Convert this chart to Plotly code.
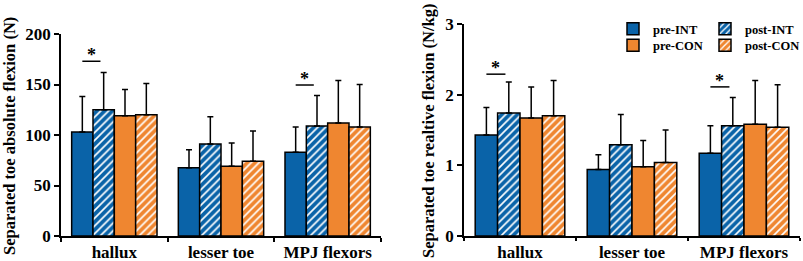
import plotly.graph_objects as go

categories = ["hallux", "lesser toe", "MPJ flexors"]
series = ["pre-INT", "post-INT", "pre-CON", "post-CON"]

abs_mean = {
    "pre-INT": [103, 67.5, 83],
    "post-INT": [125, 91, 109],
    "pre-CON": [119, 69, 112],
    "post-CON": [120, 74, 108],
}
abs_sd = {
    "pre-INT": [35, 18, 25],
    "post-INT": [37, 27, 30],
    "pre-CON": [26, 23, 42],
    "post-CON": [31, 30, 42],
}
rel_mean = {
    "pre-INT": [1.43, 0.94, 1.17],
    "post-INT": [1.74, 1.29, 1.56],
    "pre-CON": [1.67, 0.98, 1.58],
    "post-CON": [1.70, 1.04, 1.54],
}
rel_sd = {
    "pre-INT": [0.39, 0.21, 0.39],
    "post-INT": [0.44, 0.43, 0.40],
    "pre-CON": [0.44, 0.37, 0.62],
    "post-CON": [0.50, 0.46, 0.60],
}
# significance markers: (category index, height)
sig_abs = [(0, 173), (2, 149.5)]
sig_rel = [(0, 2.29), (2, 2.11)]

BLUE = "#0a63a8"
ORANGE = "#ef8630"
colors = {"pre-INT": BLUE, "post-INT": BLUE, "pre-CON": ORANGE, "post-CON": ORANGE}
hatched = {"pre-INT": False, "post-INT": True, "pre-CON": False, "post-CON": True}
legend_of = {"pre-INT": "legend", "post-INT": "legend2", "pre-CON": "legend3", "post-CON": "legend4"}

FONT = "Liberation Serif"
fig = go.Figure()

for panel, (means, sds, xa, ya) in enumerate([(abs_mean, abs_sd, "x", "y"), (rel_mean, rel_sd, "x2", "y2")]):
    for s in series:
        pattern = dict(shape="/", fgcolor="white", bgcolor=colors[s], size=5.5, solidity=0.3) if hatched[s] else dict(shape="")
        fig.add_trace(go.Bar(
            x=categories, y=means[s], name=s, xaxis=xa, yaxis=ya,
            marker=dict(color=colors[s], line=dict(color="black", width=1.5), pattern=pattern),
            error_y=dict(type="data", array=sds[s], symmetric=False, arrayminus=[0] * 3,
                         color="black", thickness=1.5, width=3),
            showlegend=(panel == 1), legend=legend_of[s],
        ))

nser = len(series)
group_w = 0.8
bar_w = group_w / nser
def bar_center(ci, si):
    return ci - group_w / 2 + bar_w * (si + 0.5)

shapes = []
annotations = []
for sigs, xr, yr in [(sig_abs, "x", "y"), (sig_rel, "x2", "y2")]:
    for ci, h in sigs:
        x0 = bar_center(ci, 0)
        x1 = bar_center(ci, 1) - 0.03
        shapes.append(dict(type="line", xref=xr, yref=yr, x0=x0, x1=x1, y0=h, y1=h,
                           line=dict(color="black", width=1.5)))
        annotations.append(dict(xref=xr, yref=yr, x=(x0 + x1) / 2, y=h, text="*", showarrow=False,
                                yanchor="bottom", yshift=-6,
                                font=dict(family=FONT, size=18, color="black", weight="bold")))

annotations.append(dict(xref="paper", yref="paper", x=9 / 803, y=1 - 136 / 261, text="Separated toe absolute flexion (N)",
                        textangle=-90, showarrow=False, xanchor="center", yanchor="middle",
                        font=dict(family=FONT, size=16.5, color="black", weight="bold")))
annotations.append(dict(xref="paper", yref="paper", x=428 / 803, y=1 - 131 / 261, text="Separated toe realtive flexion (N/kg)",
                        textangle=-90, showarrow=False, xanchor="center", yanchor="middle",
                        font=dict(family=FONT, size=16.5, color="black", weight="bold")))

xcommon = dict(type="category", range=[-0.5, 2.5], showline=True, linecolor="black", linewidth=1.5,
               ticks="outside", tickson="boundaries", ticklen=4, tickcolor="black", tickwidth=1.5,
               showgrid=False, zeroline=False, automargin=False,
               tickfont=dict(family=FONT, size=17, color="black", weight="bold"))
ycommon = dict(showline=True, linecolor="black", linewidth=1.5, ticks="outside", ticklen=5,
               tickcolor="black", tickwidth=1.5, showgrid=False, zeroline=False, automargin=False,
               tickfont=dict(family=FONT, size=17, color="black", weight="bold"))

legfont = dict(family=FONT, size=12.5, color="black", weight="bold")
def leg(xpx, ypx):
    return dict(x=xpx / 803, y=1 - ypx / 261, xanchor="left", yanchor="middle", font=legfont,
                bgcolor="rgba(0,0,0,0)", borderwidth=0)

fig.update_layout(
    template="none",
    width=803, height=261, margin=dict(l=0, r=0, t=0, b=0, autoexpand=False),
    paper_bgcolor="white", plot_bgcolor="white",
    barmode="group", bargap=0.2, bargroupgap=0,
    xaxis=dict(xcommon, domain=[61 / 803, 381 / 803], anchor="y"),
    yaxis=dict(ycommon, domain=[1 - 236 / 261, 1 - 34 / 261], range=[0, 200], tickvals=[0, 50, 100, 150, 200], anchor="x"),
    xaxis2=dict(xcommon, domain=[464 / 803, 800 / 803], anchor="y2", ticklen=3),
    yaxis2=dict(ycommon, domain=[1 - 236 / 261, 1 - 24 / 261], range=[0, 3], tickvals=[0, 1, 2, 3], anchor="x2"),
    legend=leg(613, 29),
    legend2=leg(705, 29),
    legend3=leg(613, 45.5),
    legend4=leg(705, 45.5),
    shapes=shapes, annotations=annotations,
)

fig.write_html("out.html", config={"displayModeBar": False},
               post_script="document.body.style.margin='0px';document.body.style.overflow='hidden';")
